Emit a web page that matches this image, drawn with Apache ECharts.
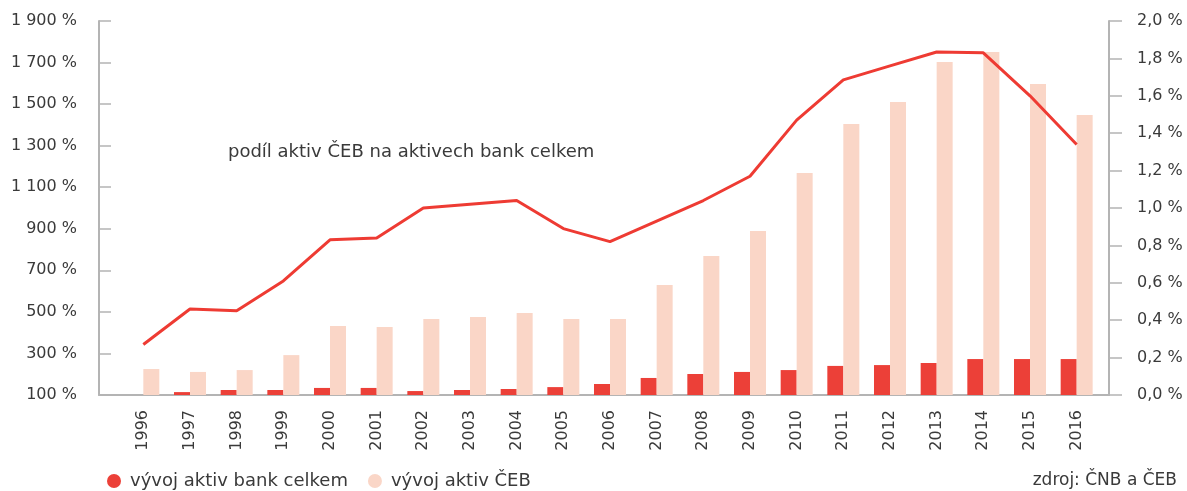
<!DOCTYPE html>
<html>
<head>
<meta charset="utf-8">
<script src="https://cdn.jsdelivr.net/npm/echarts@6/dist/echarts.min.js"></script>
<style>
  html, body { margin: 0; padding: 0; background: #fff; }
  #chart { width: 1187px; height: 491px; }
</style>
</head>
<body>
<div id="chart"></div>
<script>
// roky
const years = ['1996', '1997', '1998', '1999', '2000', '2001', '2002', '2003', '2004', '2005',
  '2006', '2007', '2008', '2009', '2010', '2011', '2012', '2013', '2014', '2015', '2016'];

// vývoj aktiv bank celkem (%)
const bankyCelkem = [100, 114, 124, 124, 134, 134, 119, 124, 129, 138,
  153, 182, 201, 211, 220, 240, 244, 254, 273, 273, 273];

// vývoj aktiv ČEB (%)
const aktivaCeb = [225, 211, 220, 292, 432, 427, 466, 475, 495, 466,
  466, 629, 769, 889, 1168, 1404, 1510, 1703, 1751, 1597, 1448];

// podíl aktiv ČEB na aktivech bank celkem (%), pravá osa
const podilCeb = [0.27, 0.46, 0.45, 0.61, 0.83, 0.84, 1.0, 1.02, 1.04, 0.89,
  0.82, 0.93, 1.04, 1.17, 1.47, 1.685, 1.76, 1.834, 1.83, 1.6, 1.34];

const FONT = 'DejaVu Sans';
const TXT = '#3a3a3a';
const AXIS = '#b4b4b4';

const fmtLeft = (v) => {
  if (v >= 1000) {
    const rest = String(v % 1000).padStart(3, '0');
    return Math.floor(v / 1000) + ' ' + rest + ' %';
  }
  return v + ' %';
};
const fmtRight = (v) => v.toFixed(1).replace('.', ',') + ' %';

const myChart = echarts.init(document.getElementById('chart'), null, { renderer: 'canvas' });

const option = {
  animation: false,
  textStyle: { fontFamily: FONT, color: TXT },
  grid: [
    { left: 120, right: 87, top: 21, bottom: 96 },
    { left: 99, right: 78, top: 21, bottom: 96 },
  ],
  legend: {
    left: 102,
    top: 467,
    icon: 'circle',
    itemWidth: 22,
    itemHeight: 14,
    itemGap: 20,
    textStyle: { fontFamily: FONT, fontSize: 18, color: TXT },
    data: ['vývoj aktiv bank celkem', 'vývoj aktiv ČEB'],
  },
  graphic: [
    {
      type: 'text',
      x: 228,
      y: 152,
      style: {
        text: 'podíl aktiv ČEB na aktivech bank celkem',
        font: '18px ' + FONT,
        fill: TXT,
        textVerticalAlign: 'middle',
      },
    },
    {
      type: 'text',
      x: 1177,
      y: 481,
      style: {
        text: 'zdroj: ČNB a ČEB',
        font: '17px ' + FONT,
        fill: TXT,
        textAlign: 'right',
        textVerticalAlign: 'middle',
      },
    },
  ],
  xAxis: [
    {
      type: 'category',
      gridIndex: 0,
      data: years,
      axisLine: { show: false },
      axisTick: { show: false },
      axisLabel: {
        rotate: 90,
        margin: 15,
        fontSize: 16,
        fontFamily: FONT,
        color: TXT,
      },
    },
    {
      // jen spodní linka osy přes celou šířku
      type: 'value',
      gridIndex: 1,
      min: 0,
      max: 1,
      axisLine: { show: true, lineStyle: { color: AXIS, width: 2 } },
      axisTick: { show: false },
      axisLabel: { show: false },
      splitLine: { show: false },
    },
  ],
  yAxis: [
    {
      type: 'value',
      gridIndex: 0,
      position: 'left',
      offset: 21,
      min: 100,
      max: 1900,
      interval: 200,
      startValue: 100,
      axisLine: { show: true, lineStyle: { color: AXIS, width: 2 } },
      axisTick: { show: true, inside: true, length: 12, lineStyle: { color: AXIS, width: 1.5 } },
      splitLine: { show: false },
      axisLabel: { margin: 22, fontSize: 16, fontFamily: FONT, color: TXT, formatter: fmtLeft },
    },
    {
      type: 'value',
      gridIndex: 0,
      position: 'right',
      offset: 9,
      min: 0,
      max: 2,
      interval: 0.2,
      axisLine: { show: true, lineStyle: { color: AXIS, width: 2 } },
      axisTick: { show: true, inside: false, length: 13, lineStyle: { color: AXIS, width: 1.5 } },
      splitLine: { show: false },
      axisLabel: { margin: 28, fontSize: 16, fontFamily: FONT, color: TXT, formatter: fmtRight },
    },
    {
      type: 'value',
      gridIndex: 1,
      show: false,
    },
  ],
  series: [
    {
      name: 'vývoj aktiv bank celkem',
      type: 'bar',
      xAxisIndex: 0,
      yAxisIndex: 0,
      barWidth: 16,
      barGap: '0%',
      itemStyle: { color: '#ec4038' },
      data: bankyCelkem,
    },
    {
      name: 'vývoj aktiv ČEB',
      type: 'bar',
      xAxisIndex: 0,
      yAxisIndex: 0,
      barWidth: 16,
      barGap: '0%',
      itemStyle: { color: '#fad6c7' },
      data: aktivaCeb,
    },
    {
      name: 'podíl aktiv ČEB na aktivech bank celkem',
      type: 'line',
      xAxisIndex: 0,
      yAxisIndex: 1,
      symbol: 'none',
      lineStyle: { color: '#ee3b33', width: 3 },
      z: 5,
      data: podilCeb,
    },
  ],
};

myChart.setOption(option);
</script>
</body>
</html>
